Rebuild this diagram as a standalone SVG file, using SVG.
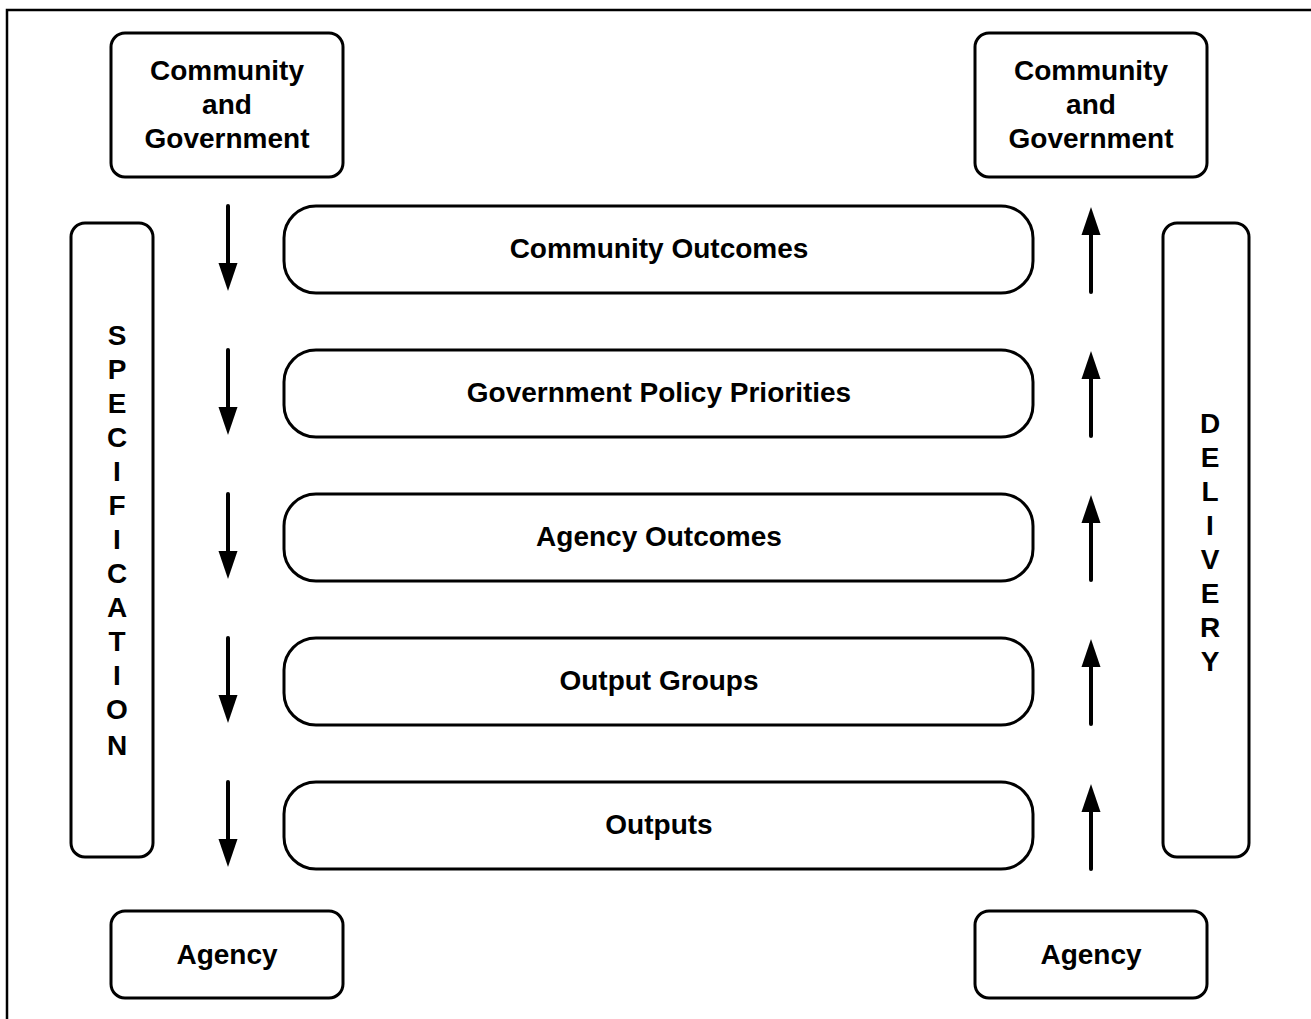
<svg xmlns="http://www.w3.org/2000/svg" width="1311" height="1019" viewBox="0 0 1311 1019">
<defs>
<style>
.box{fill:#fff;stroke:#000;stroke-width:3}
.t{font-family:"Liberation Sans",Arial,sans-serif;font-weight:bold;font-size:28px;fill:#000;text-anchor:middle}
.c{stroke:#000;stroke-width:4;fill:none;stroke-linecap:round}
.h{fill:#000;stroke:none}
</style>
<g id="down"><line class="c" x1="228" y1="206" x2="228" y2="266"/><path class="h" d="M218.5,263 L237.5,263 L228,291 Z"/></g>
<g id="up"><line class="c" x1="1091" y1="292" x2="1091" y2="232"/><path class="h" d="M1081.5,235 L1100.5,235 L1091,207 Z"/></g>
</defs>
<rect width="1311" height="1019" fill="#fff"/>
<path d="M7,1019 V10 H1311" fill="none" stroke="#000" stroke-width="2.5"/>

<g id="cg-left"><rect class="box" x="111" y="33" width="232" height="144" rx="14"/>
<text class="t" x="227" y="80">Community</text><text class="t" x="227" y="114">and</text><text class="t" x="227" y="148">Government</text></g>
<g id="cg-right"><rect class="box" x="975" y="33" width="232" height="144" rx="14"/>
<text class="t" x="1091" y="80">Community</text><text class="t" x="1091" y="114">and</text><text class="t" x="1091" y="148">Government</text></g>

<g id="agency-left"><rect class="box" x="111" y="911" width="232" height="87" rx="14"/><text class="t" x="227" y="964">Agency</text></g>
<g id="agency-right"><rect class="box" x="975" y="911" width="232" height="87" rx="14"/><text class="t" x="1091" y="964">Agency</text></g>

<g id="specification"><rect class="box" x="71" y="223" width="82" height="634" rx="14"/>
<text class="t" x="117">
<tspan x="117" y="345">S</tspan><tspan x="117" y="379">P</tspan><tspan x="117" y="413">E</tspan><tspan x="117" y="447">C</tspan><tspan x="117" y="481">I</tspan><tspan x="117" y="515">F</tspan><tspan x="117" y="549">I</tspan><tspan x="117" y="583">C</tspan><tspan x="117" y="617">A</tspan><tspan x="117" y="651">T</tspan><tspan x="117" y="685">I</tspan><tspan x="117" y="719">O</tspan><tspan x="117" y="755">N</tspan>
</text></g>

<g id="delivery"><rect class="box" x="1163" y="223" width="86" height="634" rx="14"/>
<text class="t" x="1210">
<tspan x="1210" y="433">D</tspan><tspan x="1210" y="467">E</tspan><tspan x="1210" y="501">L</tspan><tspan x="1210" y="535">I</tspan><tspan x="1210" y="569">V</tspan><tspan x="1210" y="603">E</tspan><tspan x="1210" y="637">R</tspan><tspan x="1210" y="671">Y</tspan>
</text></g>

<g id="community-outcomes"><rect class="box" x="284" y="206" width="749" height="87" rx="32"/><text class="t" x="659" y="258">Community Outcomes</text></g>
<g id="gov-policy"><rect class="box" x="284" y="350" width="749" height="87" rx="32"/><text class="t" x="659" y="402">Government Policy Priorities</text></g>
<g id="agency-outcomes"><rect class="box" x="284" y="494" width="749" height="87" rx="32"/><text class="t" x="659" y="546">Agency Outcomes</text></g>
<g id="output-groups"><rect class="box" x="284" y="638" width="749" height="87" rx="32"/><text class="t" x="659" y="690">Output Groups</text></g>
<g id="outputs"><rect class="box" x="284" y="782" width="749" height="87" rx="32"/><text class="t" x="659" y="834">Outputs</text></g>

<g id="connectors">
<use href="#down"/>
<use href="#down" transform="translate(0,144)"/>
<use href="#down" transform="translate(0,288)"/>
<use href="#down" transform="translate(0,432)"/>
<use href="#down" transform="translate(0,576)"/>
<use href="#up"/>
<use href="#up" transform="translate(0,144)"/>
<use href="#up" transform="translate(0,288)"/>
<use href="#up" transform="translate(0,432)"/>
<use href="#up" transform="translate(0,577)"/>
</g>
</svg>
